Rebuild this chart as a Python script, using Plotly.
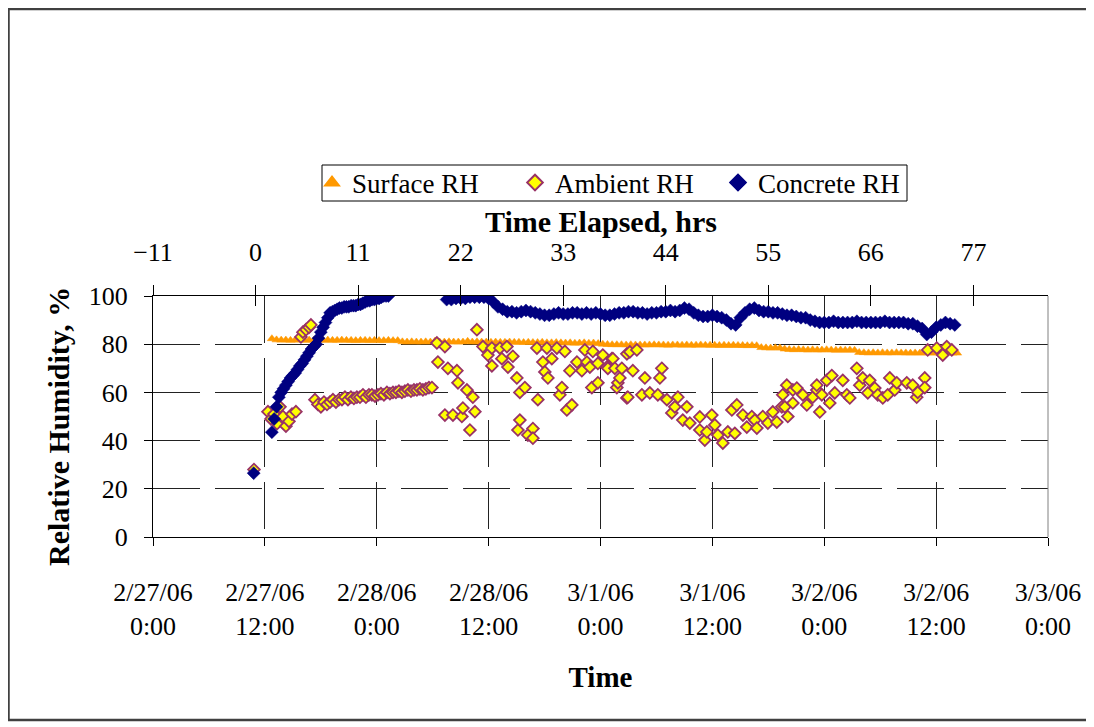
import plotly.graph_objects as go
from datetime import datetime, timedelta

BASE = datetime(2006, 2, 27)

# ---------------- data (hours since 2/27/06 0:00) ----------------
surface_start_h = 12.75
surface_step_h = 0.5
surface_rh = [
    82.3, 81.8, 81.7, 81.7, 81.6, 81.7, 81.7, 81.6, 81.7, 81.6,
    81.7, 81.6, 81.7, 81.6, 81.6, 81.7, 81.6, 81.6, 81.5, 81.6,
    81.6, 81.5, 81.6, 81.5, 81.5, 81.6, 81.5, 81.5, 81.0, 80.9,
    81.0, 80.9, 80.9, 81.0, 80.9, 81.3, 80.9, 80.9, 81.0, 80.9,
    80.9, 80.9, 81.2, 80.9, 81.0, 80.9, 80.9, 80.8, 80.9, 80.8,
    80.8, 80.9, 80.8, 80.8, 80.7, 80.8, 80.7, 80.7, 80.8, 80.6,
    80.6, 80.7, 80.6, 80.5, 80.6, 80.4, 80.5, 80.6, 80.4, 80.5,
    80.3, 80.0, 79.9, 79.8, 79.8, 79.8, 79.7, 79.8, 79.7, 79.7,
    79.7, 79.7, 79.8, 79.7, 79.7, 79.6, 79.7, 79.7, 79.6, 79.7,
    79.6, 79.6, 79.7, 79.6, 79.6, 79.6, 79.5, 79.6, 79.5, 79.6,
    79.5, 79.5, 79.4, 79.5, 79.4, 78.6, 78.5, 78.4, 78.5, 78.4,
    78.0, 77.8, 77.7, 77.8, 77.7, 77.6, 77.7, 77.6, 77.6, 77.7,
    77.6, 77.5, 77.6, 77.5, 77.6, 77.5, 76.6, 76.5, 76.4, 76.5,
    76.4, 76.5, 76.4, 76.4, 76.5, 76.4, 76.4, 76.3, 76.4, 76.3,
    76.4, 76.3, 76.4, 76.3, 76.3, 76.4, 76.3, 76.3,
]

concrete_first_h = [10.8]
concrete_first_rh = [26.5]
concrete_seg1_start_h = 12.75
concrete_seg1_step_h = 0.25
concrete_seg1_rh = [
    43.5, 49, 54, 58, 60, 61.5, 63, 64.5, 66, 67,
    68, 69.5, 71, 72, 73.5, 75, 76.5, 78, 79, 80,
    82.5, 85, 87, 89, 91, 93, 93.5, 94, 94.5, 95,
    95, 95.5, 95.5, 95.5, 96, 96, 96, 96.5, 96.5, 97,
    97.5, 98, 98, 98.5, 98.5, 99, 99, 99.5, 100, 100, 100,
]
concrete_seg2_start_h = 31.5
concrete_seg2_step_h = 0.5
concrete_seg2_rh = [
    98.5, 98.5, 99, 99, 99, 99.5, 99.5, 99.5, 99.5, 99,
    97.5, 95.5, 94.5, 93.5, 93.5, 93, 93.5, 94, 93.5, 93,
    92.5, 92, 92, 92.5, 93, 92.5, 92.5, 93, 93, 92.5,
    93, 92.5, 93, 92.5, 92, 92, 92.5, 93, 93, 93.5,
    93.5, 93, 93, 92.5, 93, 93, 93.5, 93.5, 94, 93.5,
    94, 95, 94.5, 93, 92, 91.5, 91.5, 92, 91.5, 91,
    90, 88.5, 88, 91, 93, 94.5, 95, 94, 93.5, 93.5,
    93, 93, 92.5, 92, 92, 91.5, 91, 91, 90, 89.5,
    89, 89, 89, 89.5, 89, 89, 89, 89, 89.5, 89,
    89, 89, 89, 89, 89.5, 89, 89, 89, 89, 88.5,
    88.5, 87.5, 86.5, 84, 85, 87, 88, 89, 88.5, 88,
]

ambient_hours = [
    10.83, 12.33, 12.65, 12.97, 13.30, 13.62, 13.94, 14.26, 14.58, 14.91,
    15.33, 15.87, 16.08, 16.41, 16.73, 16.94, 17.37, 17.69, 18.01, 18.34,
    18.66, 18.98, 19.30, 19.62, 19.94, 20.27, 20.59, 20.91, 21.23, 21.55,
    21.87, 22.20, 22.52, 22.84, 23.16, 23.48, 23.81, 24.13, 24.45, 24.77,
    25.09, 25.41, 25.74, 26.06, 26.38, 26.70, 27.02, 27.34, 27.67, 27.99,
    28.31, 28.63, 28.95, 29.27, 29.60, 29.92,
    30.45, 30.56, 31.31, 31.31, 31.63, 32.17, 32.60, 32.71, 33.13, 33.24,
    33.67, 33.99, 34.31, 34.53, 34.74, 35.39, 35.92, 36.35, 36.35, 37.21,
    37.42, 37.96, 38.07, 38.60, 39.03, 39.14, 39.35, 39.35, 39.89, 40.21,
    40.75, 40.75, 41.18, 41.28, 41.82, 42.03, 42.25, 42.36, 42.78, 43.32,
    43.64, 43.86, 44.18, 44.39, 44.72, 44.93, 45.47, 46.00, 46.32, 46.54,
    46.86, 47.07, 47.18, 47.72, 47.72, 48.25, 48.68, 48.79, 49.22, 49.33,
    49.54, 49.75, 49.86, 50.08, 50.29, 50.83, 50.83, 50.93, 51.15, 51.47,
    51.90, 52.44, 52.76, 53.29, 54.15, 54.37, 54.58, 55.12, 55.65, 55.97,
    56.30, 56.83, 57.26, 57.58, 58.65, 58.65, 59.19, 59.41, 59.94, 60.26,
    60.58, 61.12, 61.66, 62.09, 62.41, 62.62, 63.27, 63.69, 64.23, 64.55,
    64.77, 65.41, 65.95, 66.48, 66.91, 67.45, 67.55, 67.77, 67.98, 68.09,
    68.63, 68.63, 69.06, 69.70, 70.13, 70.77, 71.20, 71.20, 71.52, 71.74,
    72.27, 72.59, 72.81, 73.13, 73.99, 74.42, 74.74, 75.49, 75.81, 76.13,
    76.67, 76.88, 77.42, 77.74, 78.28, 78.81, 79.03, 79.56, 79.78, 80.85,
    81.49, 81.92, 82.03, 82.78, 82.78, 83.10, 84.07, 84.71, 85.14, 85.68,
]
ambient_rh = [
    28, 52, 49, 51, 47, 54, 50, 46, 48, 51,
    52, 83, 85, 86, 87, 88, 57, 55, 54, 56,
    55, 56, 57, 56, 57, 57, 58, 57, 58, 57.5,
    58, 58, 59, 58, 59, 59, 58.5, 59, 59.5, 59,
    60, 59.5, 60, 60, 60.5, 60, 60.5, 61, 60.5, 61,
    61, 61.5, 61, 61.5, 62, 62,
    80.5, 72.6, 79, 50.6, 70, 50.6, 69, 64, 50, 53.5,
    61, 44.4, 58, 52, 86, 79, 75.5, 78.4, 71, 78.4,
    74, 79, 70.5, 75, 66, 44.4, 48.5, 60, 62, 42.3,
    45, 41, 78.4, 57, 72.6, 68.5, 78.4, 66, 74, 78.4,
    59, 62, 77, 52.7, 69, 54.8, 72.6, 69, 77.6, 72.6,
    70.5, 62, 77, 72, 64, 75.5, 70.5, 70, 74, 74,
    70, 62, 64, 66, 70, 76, 57.7, 58, 76.8, 69,
    77.6, 59, 66, 59.8, 59, 66, 70, 57, 51.5, 54,
    58, 48.5, 54, 47.3, 49.8, 44.4, 40.2, 43.6, 50.6, 46.5,
    42.3, 39, 43.6, 52.7, 43, 54.8, 50.6, 45.6, 50, 48.5,
    45.2, 50, 47.3, 51.9, 47.7, 54, 59, 54, 63, 50,
    61, 55.6, 61.8, 59, 54.8, 58, 61, 63, 51.9, 59,
    65, 55.6, 67, 59.8, 65, 59, 57.7, 70, 63, 66,
    59.8, 65, 61.8, 59, 57.7, 59, 66, 61, 64, 64,
    63, 58, 60, 66, 62, 77.6, 78.4, 75.5, 79, 77.6,
]

date_tick_hours = [0, 12, 24, 36, 48, 60, 72, 84, 96]
date_tick_labels = [
    "2/27/06<br>0:00", "2/27/06<br>12:00", "2/28/06<br>0:00", "2/28/06<br>12:00",
    "3/1/06<br>0:00", "3/1/06<br>12:00", "3/2/06<br>0:00", "3/2/06<br>12:00",
    "3/3/06<br>0:00",
]
elapsed_ticks = [-11, 0, 11, 22, 33, 44, 55, 66, 77]
elapsed_range = [-11, 85]
rh_ticks = [0, 20, 40, 60, 80, 100]


def to_dt(h):
    return BASE + timedelta(hours=h)


surface_x = [to_dt(surface_start_h + i * surface_step_h) for i in range(len(surface_rh))]
concrete_x = ([to_dt(h) for h in concrete_first_h]
              + [to_dt(concrete_seg1_start_h + i * concrete_seg1_step_h) for i in range(len(concrete_seg1_rh))]
              + [to_dt(concrete_seg2_start_h + i * concrete_seg2_step_h) for i in range(len(concrete_seg2_rh))])
concrete_y = concrete_first_rh + concrete_seg1_rh + concrete_seg2_rh
ambient_x = [to_dt(h) for h in ambient_hours]

FONT = "Liberation Serif, Times New Roman, serif"
FS = 26
TFS = 30

fig = go.Figure()
fig.add_trace(go.Scatter(
    x=surface_x, y=surface_rh, mode="markers", name="Surface RH",
    marker=dict(symbol="triangle-up", size=8, color="#FF9900",
                line=dict(color="#FF9900", width=0.5)),
))
fig.add_trace(go.Scatter(
    x=ambient_x, y=ambient_rh, mode="markers", name="Ambient RH",
    marker=dict(symbol="diamond", size=9, color="#FFFF00",
                line=dict(color="#993366", width=1.8)),
))
fig.add_trace(go.Scatter(
    x=concrete_x, y=concrete_y, mode="markers", name="Concrete RH",
    marker=dict(symbol="diamond", size=10, color="#000080",
                line=dict(color="#000080", width=0.5)),
))
# traces that carry the elapsed-time axes
fig.add_trace(go.Scatter(x=elapsed_range, y=[None, None], xaxis="x2",
                         showlegend=False, hoverinfo="skip"))
fig.add_trace(go.Scatter(x=elapsed_range, y=[None, None], xaxis="x3",
                         showlegend=False, hoverinfo="skip"))

# figure is 8 px smaller than the window to absorb the page's body margin
W, H = 1086, 719
PL, PR, PT, PB = 145, 46, 288, 190
PW, PH = W - PL - PR, H - PT - PB


def px_x(fx):
    return (fx - PL) / PW


def px_y(fy):
    return (H - PB - fy) / PH


fig.update_layout(
    width=W, height=H,
    margin=dict(l=PL, r=PR, t=PT, b=PB),
    paper_bgcolor="white", plot_bgcolor="white",
    font=dict(family=FONT, size=FS, color="black"),
    showlegend=True,
    legend=dict(
        orientation="h", x=px_x(304), y=px_y(175), xanchor="left", yanchor="middle",
        borderwidth=0, bgcolor="rgba(0,0,0,0)",
        font=dict(family=FONT, size=27, color="black"),
        itemsizing="constant", itemwidth=30,
        entrywidth=158, entrywidthmode="pixels",
    ),
    xaxis=dict(
        type="date",
        range=[to_dt(0), to_dt(96)],
        tickvals=[to_dt(h) for h in date_tick_hours],
        ticktext=date_tick_labels,
        ticks="outside", ticklen=8, tickcolor="black", tickwidth=1,
        ticklabelstandoff=24,
        showline=True, linecolor="black", linewidth=1,
        showgrid=True, gridcolor="#222222", gridwidth=1, griddash="47px,15px",
        zeroline=False,
        tickfont=dict(family=FONT, size=FS),
        title=dict(text="<b>Time</b>", font=dict(family=FONT, size=29), standoff=26),
    ),
    xaxis2=dict(
        overlaying="x", side="top", anchor="y",
        range=elapsed_range, tickvals=elapsed_ticks,
        ticks="outside", ticklen=10, tickcolor="black", tickwidth=1,
        ticklabelstandoff=14,
        showline=True, linecolor="black", linewidth=1,
        showgrid=False, zeroline=False,
        tickfont=dict(family=FONT, size=FS),
    ),
    xaxis3=dict(
        overlaying="x", side="top", anchor="y",
        range=elapsed_range, tickvals=elapsed_ticks,
        ticks="inside", ticklen=10, tickcolor="black", tickwidth=1,
        showticklabels=False, showline=False, showgrid=False, zeroline=False,
    ),
    yaxis=dict(
        range=[0, 100], tickvals=rh_ticks,
        ticks="outside", ticklen=8, tickcolor="black", tickwidth=1,
        ticklabelstandoff=11,
        showline=True, linecolor="black", linewidth=1,
        showgrid=True, gridcolor="#222222", gridwidth=1, griddash="47px,15px",
        zeroline=False,
        tickfont=dict(family=FONT, size=FS),
    ),
    annotations=[
        dict(text="<b>Time Elapsed, hrs</b>", xref="paper", yref="paper",
             x=0.5, y=px_y(213), xanchor="center", yanchor="middle",
             showarrow=False, font=dict(family=FONT, size=TFS, color="black")),
        dict(text="<b>Relative Humidity, %</b>", xref="paper", yref="paper",
             x=px_x(50), y=px_y(419), xanchor="center", yanchor="middle",
             textangle=-90, showarrow=False,
             font=dict(family=FONT, size=TFS, color="black")),
    ],
    shapes=[
        dict(type="line", xref="paper", yref="paper", x0=1, x1=1, y0=0, y1=1,
             line=dict(color="#808080", width=1)),
        dict(type="rect", xref="paper", yref="paper",
             x0=px_x(314), x1=px_x(899), y0=px_y(193), y1=px_y(157),
             line=dict(color="black", width=1)),
        dict(type="rect", xref="paper", yref="paper",
             x0=px_x(0.5), x1=px_x(1084), y0=px_y(712), y1=px_y(1),
             line=dict(color="#404040", width=2.5)),
    ],
)

fig.write_html("out.html")
